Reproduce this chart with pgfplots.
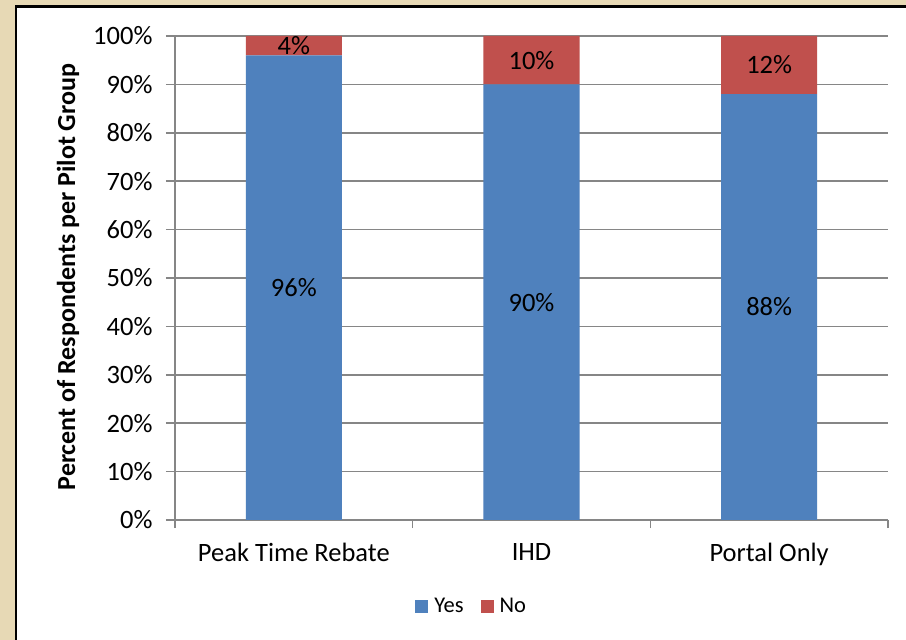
\documentclass[border=0pt]{standalone}
\usepackage{fontspec}
\setmainfont{Carlito}
\usepackage{pgfplots}
\pgfplotsset{compat=1.18}
\usepackage{pgfplotstable}
\definecolor{yescol}{RGB}{79,129,189}
\definecolor{nocol}{RGB}{192,80,77}
\definecolor{gridcol}{RGB}{134,134,134}
\definecolor{framebg}{RGB}{231,217,181}
\pgfplotstableread{
x yes no
0 96 4
1 90 10
2 88 12
}\datatable
\pgfplotstableread{
x y val
0 48 96
1 45 90
2 44 88
0 98 4
1 95 10
2 94 12
}\labeltable
\begin{document}
\begin{tikzpicture}
\useasboundingbox (0,0) rectangle (906bp,640bp);
\fill[framebg] (0,0) rectangle (906bp,640bp);
\fill[white] (16bp,0) rectangle (906bp,634bp);
\draw[black, line width=2.7bp] (16bp,0) -- (16bp,633.8bp) -- (906bp,633.8bp);
\begin{axis}[
  at={(175bp,120bp)}, anchor=south west,
  scale only axis, width=713bp, height=484bp,
  ybar stacked, bar width=0.404,
  xmin=-0.5, xmax=2.5, ymin=0, ymax=100,
  xtick={0,1,2}, xticklabels={Peak Time Rebate, IHD, Portal Only},
  minor xtick={-0.5,0.5,1.5,2.5},
  ytick={0,10,...,100},
  yticklabels={0\%,10\%,20\%,30\%,40\%,50\%,60\%,70\%,80\%,90\%,100\%},
  axis x line*=bottom, axis y line*=left,
  tick align=outside,
  major tick length=9bp, minor tick length=8bp,
  major x tick style={draw=none},
  every tick/.style={gridcol, line width=1.5bp},
  axis line style={gridcol, line width=1.5bp},
  ymajorgrids, grid style={gridcol, line width=1.5bp},
  tick label style={font=\fontsize{26.5bp}{30bp}\selectfont},
  yticklabel style={xshift=-10bp},
  xticklabel style={yshift=-11bp},
  ylabel={Percent of Respondents per Pilot Group},
  ylabel style={at={(axis description cs:-0.150,0.502)}, anchor=center, font=\bfseries\fontsize{26bp}{30bp}\selectfont},
  legend style={at={(0.416,-0.178)}, anchor=center, draw=none, legend columns=-1,
    font=\fontsize{22.5bp}{26bp}\selectfont,
    /tikz/every odd column/.append style={column sep=4bp},
    /tikz/every even column/.append style={column sep=15bp}},
  legend image code/.code={\fill[#1] (0bp,-6.5bp) rectangle (13bp,6.5bp);},
]
\addplot[fill=yescol, draw=none] table[x=x, y=yes]{\datatable};
\addplot[fill=nocol, draw=none] table[x=x, y=no]{\datatable};
\legend{Yes,No}
\end{axis}
\begin{axis}[
  at={(175bp,120bp)}, anchor=south west,
  scale only axis, width=713bp, height=484bp,
  xmin=-0.5, xmax=2.5, ymin=0, ymax=100,
  hide axis, clip=false,
]
\addplot[sharp plot, draw=none, mark=none,
  point meta=explicit,
  nodes near coords={\pgfmathprintnumber[assume math mode=true]{\pgfplotspointmeta}\%},
  every node near coord/.style={anchor=center, black, font=\fontsize{26.5bp}{30bp}\selectfont}]
  table[x=x, y=y, meta=val]{\labeltable};
\end{axis}
\end{tikzpicture}
\end{document}
